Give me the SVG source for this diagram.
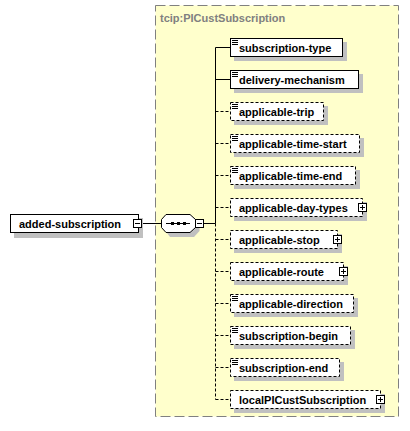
<svg xmlns="http://www.w3.org/2000/svg" width="410" height="431" viewBox="0 0 410 431">
<style>
text{font-family:"Liberation Sans",Arial,sans-serif;font-size:11px;font-weight:bold;fill:#000}
.sh{fill:#C0C0C0}
.box{fill:#fff;stroke:#000;stroke-width:1}
.opt{stroke-dasharray:3 2}
.ln{stroke:#000;stroke-width:1;fill:none}
.dl{stroke:#000;stroke-width:1;fill:none;stroke-dasharray:3 2}
.ic{stroke:#000;stroke-width:1}
.pm{fill:#fff;stroke:#000;stroke-width:1}
</style>
<rect x="155.5" y="5.5" width="243" height="411" fill="#FFFFCC" stroke="#808080" stroke-dasharray="10 4"/>
<text x="160" y="22" style="fill:#808080">tcip:PICustSubscription</text>
<g id="connectors">
<line class="ln" x1="142" y1="223.5" x2="161" y2="223.5"/>
<line class="ln" x1="204" y1="223.5" x2="215.5" y2="223.5"/>
<line class="ln" x1="215.5" y1="47.5" x2="215.5" y2="223.5"/>
<line class="dl" x1="215.5" y1="223.5" x2="215.5" y2="399.5"/>
<line class="ln" x1="215.5" y1="47.5" x2="230" y2="47.5"/>
<line class="ln" x1="215.5" y1="79.5" x2="230" y2="79.5"/>
<line class="dl" x1="215.5" y1="111.5" x2="230" y2="111.5"/>
<line class="dl" x1="215.5" y1="143.5" x2="230" y2="143.5"/>
<line class="dl" x1="215.5" y1="175.5" x2="230" y2="175.5"/>
<line class="dl" x1="215.5" y1="207.5" x2="230" y2="207.5"/>
<line class="dl" x1="215.5" y1="239.5" x2="230" y2="239.5"/>
<line class="dl" x1="215.5" y1="271.5" x2="230" y2="271.5"/>
<line class="dl" x1="215.5" y1="303.5" x2="230" y2="303.5"/>
<line class="dl" x1="215.5" y1="335.5" x2="230" y2="335.5"/>
<line class="dl" x1="215.5" y1="367.5" x2="230" y2="367.5"/>
<line class="dl" x1="215.5" y1="399.5" x2="230" y2="399.5"/>
</g>
<g id="added-subscription">
<rect class="sh" x="14" y="218" width="129" height="20"/>
<rect class="box" x="10.5" y="214.5" width="128" height="18"/>
<text x="19" y="228">added-subscription</text>
<rect class="pm" x="133.5" y="219.5" width="8" height="8"/>
<line class="ic" x1="135" y1="223.5" x2="140" y2="223.5"/>
</g>
<g id="sequence">
<polygon class="sh" points="170,218 194,218 199.5,223 199.5,231 194,237 170,237 165.5,231 165.5,223"/>
<polygon class="box" points="166,214.5 190,214.5 195.5,219.5 195.5,227.5 190,232.5 166,232.5 161.5,227.5 161.5,219.5"/>
<line class="ic" x1="166" y1="223.5" x2="190" y2="223.5"/>
<rect x="171" y="222" width="3" height="3"/>
<rect x="177" y="222" width="3" height="3"/>
<rect x="183" y="222" width="3" height="3"/>
<rect class="pm" x="195.5" y="219.5" width="8" height="8"/>
<line class="ic" x1="197" y1="223.5" x2="202" y2="223.5"/>
</g>
<g id="subscription-type">
<rect class="sh" x="234" y="42" width="113" height="19"/>
<rect class="box" x="230.5" y="38.5" width="112" height="18"/>
<path class="ic" d="M232 40.5h6M232 42.5h6M232 44.5h6"/>
<text x="239" y="52">subscription-type</text>
</g>
<g id="delivery-mechanism">
<rect class="sh" x="234" y="74" width="129" height="19"/>
<rect class="box" x="230.5" y="70.5" width="128" height="18"/>
<path class="ic" d="M232 72.5h6M232 74.5h6M232 76.5h6"/>
<text x="239" y="84">delivery-mechanism</text>
</g>
<g id="applicable-trip">
<rect class="sh" x="234" y="106" width="94" height="19"/>
<rect class="box opt" x="230.5" y="102.5" width="93" height="18"/>
<path class="ic" d="M232 104.5h6M232 106.5h6M232 108.5h6"/>
<text x="239" y="116">applicable-trip</text>
</g>
<g id="applicable-time-start">
<rect class="sh" x="234" y="138" width="130" height="19"/>
<rect class="box opt" x="230.5" y="134.5" width="129" height="18"/>
<path class="ic" d="M232 136.5h6M232 138.5h6M232 140.5h6"/>
<text x="239" y="148">applicable-time-start</text>
</g>
<g id="applicable-time-end">
<rect class="sh" x="234" y="170" width="126" height="19"/>
<rect class="box opt" x="230.5" y="166.5" width="125" height="18"/>
<path class="ic" d="M232 168.5h6M232 170.5h6M232 172.5h6"/>
<text x="239" y="180">applicable-time-end</text>
</g>
<g id="applicable-day-types">
<rect class="sh" x="234" y="202" width="133" height="19"/>
<rect class="box opt" x="230.5" y="198.5" width="132" height="18"/>
<text x="239" y="212">applicable-day-types</text>
<rect class="pm" x="358.5" y="203.5" width="8" height="8"/>
<path class="ic" d="M360 207.5h5M362.5 205v5"/>
</g>
<g id="applicable-stop">
<rect class="sh" x="234" y="234" width="108" height="19"/>
<rect class="box opt" x="230.5" y="230.5" width="107" height="18"/>
<text x="239" y="244">applicable-stop</text>
<rect class="pm" x="333.5" y="235.5" width="8" height="8"/>
<path class="ic" d="M335 239.5h5M337.5 237v5"/>
</g>
<g id="applicable-route">
<rect class="sh" x="234" y="266" width="114" height="19"/>
<rect class="box opt" x="230.5" y="262.5" width="113" height="18"/>
<text x="239" y="276">applicable-route</text>
<rect class="pm" x="339.5" y="267.5" width="8" height="8"/>
<path class="ic" d="M341 271.5h5M343.5 269v5"/>
</g>
<g id="applicable-direction">
<rect class="sh" x="234" y="298" width="124" height="19"/>
<rect class="box opt" x="230.5" y="294.5" width="123" height="18"/>
<path class="ic" d="M232 296.5h6M232 298.5h6M232 300.5h6"/>
<text x="239" y="308">applicable-direction</text>
</g>
<g id="subscription-begin">
<rect class="sh" x="234" y="330" width="121" height="19"/>
<rect class="box opt" x="230.5" y="326.5" width="120" height="18"/>
<path class="ic" d="M232 328.5h6M232 330.5h6M232 332.5h6"/>
<text x="239" y="340">subscription-begin</text>
</g>
<g id="subscription-end">
<rect class="sh" x="234" y="362" width="110" height="19"/>
<rect class="box opt" x="230.5" y="358.5" width="109" height="18"/>
<path class="ic" d="M232 360.5h6M232 362.5h6M232 364.5h6"/>
<text x="239" y="372">subscription-end</text>
</g>
<g id="localPICustSubscription">
<rect class="sh" x="234" y="394" width="151" height="19"/>
<rect class="box opt" x="230.5" y="390.5" width="150" height="18"/>
<text x="239" y="404">localPICustSubscription</text>
<rect class="pm" x="376.5" y="395.5" width="8" height="8"/>
<path class="ic" d="M378 399.5h5M380.5 397v5"/>
</g>
</svg>
